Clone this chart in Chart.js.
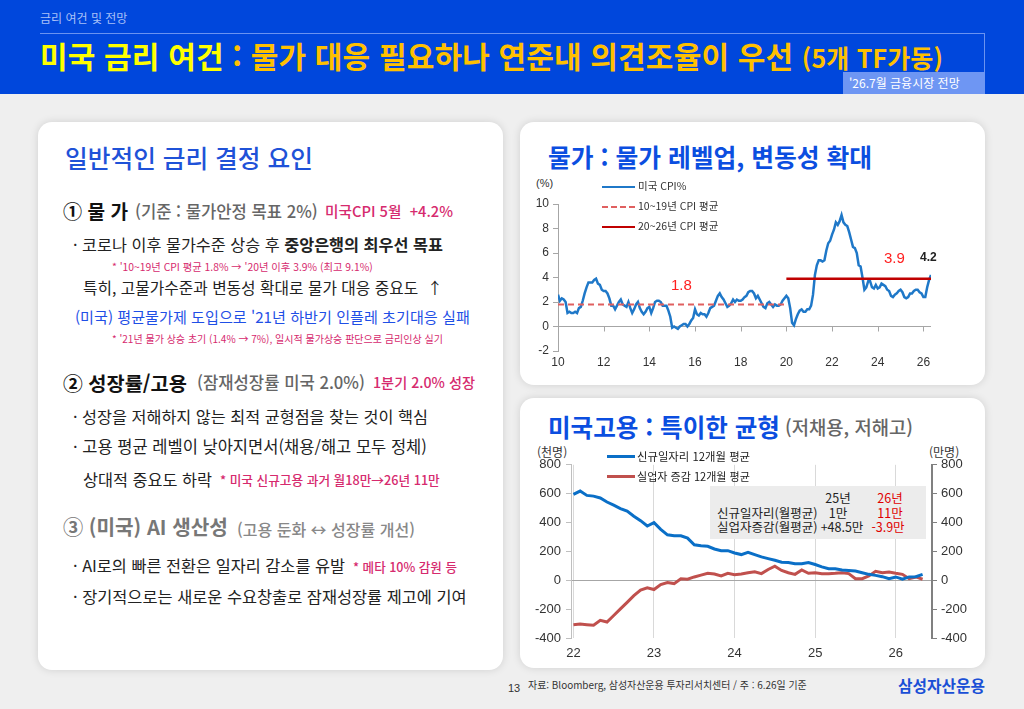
<!DOCTYPE html>
<html lang="ko">
<head>
<meta charset="utf-8">
<title>미국 금리 여건</title>
<script src="https://cdn.jsdelivr.net/npm/chart.js@4.4.1/dist/chart.umd.min.js"></script>
<style>
  html, body { margin: 0; padding: 0; }
  body {
    width: 1024px; height: 709px; position: relative; overflow: hidden;
    background: #efefef; color: #222;
    font-family: "Noto Sans CJK KR", "Noto Sans", sans-serif;
  }
  .abs { position: absolute; white-space: nowrap; line-height: 1; }
  #header { position: absolute; left: 0; top: 0; width: 1024px; height: 94px; background: #0047dc; }
  .card { position: absolute; background: #fff; border-radius: 14px; box-shadow: 0 0 8px rgba(0,0,0,0.13); }
  .pink { color: #d62a6e; }
  .leg-line { position: absolute; height: 0; }
  #info {
    position: absolute; left: 710px; top: 486px; width: 216px; height: 53px;
    background: #ececec; font-size: 12.5px; color: #222;
  }
  #info .c { transform: translateX(-50%); }
</style>
</head>
<body>

<div id="header"></div>
<div class="abs" style="left:40px; top:12px; font-size:12px; color:#a9c0f7;">금리 여건 및 전망</div>
<div style="position:absolute; left:40px; top:33px; width:945px; height:0; border-top:1px solid #6a93f0;"></div>
<div style="position:absolute; left:984px; top:33px; width:0; height:40px; border-left:1px solid #6a93f0;"></div>
<div class="abs" data-w="903" data-fit="ls" style="left:40px; top:40px; font-size:30px; font-weight:700; color:#ffc000;"><span style="color:#ffff00;">미국 금리 여건</span> : 물가 대응 필요하나 연준내 의견조율이 우선 <span style="font-size:25px;">(5개 TF가동)</span></div>
<div style="position:absolute; left:843px; top:72px; width:142px; height:22px; background:#6e96f3;"></div>
<div class="abs" style="left:849px; top:77px; font-size:12px; color:#fff;">'26.7월 금융시장 전망</div>

<!-- 왼쪽 카드 -->
<div class="card" style="left:38px; top:122px; width:465px; height:548px;"></div>
<div class="abs" data-w="248" style="left:65px; top:146px; font-size:22px; font-weight:500; color:#1f52d8;">일반적인 금리 결정 요인</div>

<div class="abs" data-w="65" style="left:63px; top:202px; font-size:19px; font-weight:700; color:#111;">① 물 가</div>
<div class="abs" data-w="183" style="left:135px; top:204px; font-size:15px; font-weight:500; color:#666;">(기준 : 물가안정 목표 2%)</div>
<div class="abs pink" data-w="128" style="left:325px; top:205px; font-size:13px; font-weight:500;">미국CPI 5월 &nbsp;+4.2%</div>

<div class="abs" data-w="370" style="left:73px; top:237px; font-size:15px;">· 코로나 이후 물가수준 상승 후 <b>중앙은행의 최우선 목표</b></div>
<div class="abs pink" data-w="261" style="left:112px; top:262px; font-size:10px;">* '10~19년 CPI 평균 1.8% → '20년 이후 3.9% (최고 9.1%)</div>
<div class="abs" data-w="360" style="left:83px; top:280px; font-size:15px;">특히, 고물가수준과 변동성 확대로 물가 대응 중요도 &nbsp;↑</div>
<div class="abs" data-w="395" style="left:75px; top:309px; font-size:15px; color:#1f4fe6;">(미국) 평균물가제 도입으로 '21년 하반기 인플레 초기대응 실패</div>
<div class="abs pink" data-w="331" style="left:112px; top:334px; font-size:10px;">* '21년 물가 상승 초기 (1.4% → 7%), 일시적 물가상승 판단으로 금리인상 실기</div>

<div class="abs" data-w="124" style="left:63px; top:373px; font-size:19px; font-weight:700; color:#111;">② 성장률/고용</div>
<div class="abs" data-w="168" style="left:197px; top:375px; font-size:15px; font-weight:500; color:#666;">(잠재성장률 미국 2.0%)</div>
<div class="abs pink" data-w="102" style="left:373px; top:376px; font-size:13px; font-weight:500;">1분기 2.0% 성장</div>

<div class="abs" data-w="355" style="left:73px; top:409px; font-size:15px;">· 성장을 저해하지 않는 최적 균형점을 찾는 것이 핵심</div>
<div class="abs" data-w="354" style="left:73px; top:439px; font-size:15px;">· 고용 평균 레벨이 낮아지면서(채용/해고 모두 정체)</div>
<div class="abs" data-w="129" style="left:83px; top:472px; font-size:15px;">상대적 중요도 하락</div>
<div class="abs pink" data-w="220" style="left:220px; top:475px; font-size:11.5px; font-weight:500;">* 미국 신규고용 과거 월18만→26년 11만</div>

<div class="abs" data-w="165" style="left:63px; top:518px; font-size:19px; font-weight:700; color:#777;">③ (미국) AI 생산성</div>
<div class="abs" data-w="178" style="left:237px; top:521px; font-size:15px; font-weight:500; color:#888;">(고용 둔화 ↔ 성장률 개선)</div>

<div class="abs" data-w="272" style="left:73px; top:558px; font-size:15px;">· AI로의 빠른 전환은 일자리 감소를 유발</div>
<div class="abs pink" data-w="104" style="left:353px; top:561px; font-size:11.5px; font-weight:500;">* 메타 10% 감원 등</div>
<div class="abs" data-w="394" style="left:73px; top:589px; font-size:15px;">· 장기적으로는 새로운 수요창출로 잠재성장률 제고에 기여</div>

<!-- 오른쪽 위: 물가 -->
<div class="card" style="left:520px; top:122px; width:465px; height:263px;"></div>
<div class="abs" data-w="324" style="left:548px; top:145px; font-size:22px; font-weight:700; color:#0b4ee0;">물가 : 물가 레벨업, 변동성 확대</div>
<div class="abs" style="left:536px; top:178px; font-size:11px; color:#333; font-family:'Liberation Sans','Noto Sans CJK KR',sans-serif;">(%)</div>
<div style="position:absolute; left:520px; top:178px; width:425px; height:196px;"><canvas id="cpiChart"></canvas></div>
<div class="leg-line" style="left:602px; top:186px; width:33px; border-top:2.5px solid #1f78c8;"></div>
<div class="abs" style="left:638px; top:181px; font-size:10.5px; color:#333;">미국 CPI%</div>
<div class="leg-line" style="left:602px; top:206px; width:33px; border-top:2px dashed #e06060;"></div>
<div class="abs" style="left:638px; top:201px; font-size:10.5px; color:#333;">10~19년 CPI 평균</div>
<div class="leg-line" style="left:602px; top:226px; width:33px; border-top:2.5px solid #c00000;"></div>
<div class="abs" style="left:638px; top:221px; font-size:10.5px; color:#333;">20~26년 CPI 평균</div>
<div class="abs" style="left:671px; top:277px; font-size:15px; color:#ff2020; font-family:'Liberation Sans',sans-serif;">1.8</div>
<div class="abs" style="left:884px; top:250px; font-size:15px; color:#ff2020; font-family:'Liberation Sans',sans-serif;">3.9</div>
<div class="abs" style="left:920px; top:251px; font-size:12px; font-weight:700; color:#222; font-family:'Liberation Sans',sans-serif;">4.2</div>

<!-- 오른쪽 아래: 고용 -->
<div class="card" style="left:520px; top:398px; width:465px; height:270px;"></div>
<div class="abs" data-w="232" style="left:548px; top:416px; font-size:22px; font-weight:700; color:#0b4ee0;">미국고용 : 특이한 균형</div>
<div class="abs" data-w="128" style="left:785px; top:417px; font-size:20px; font-weight:500; color:#666;">(저채용, 저해고)</div>
<div class="abs" style="left:537px; top:446px; font-size:12px; color:#333;">(천명)</div>
<div class="abs" style="left:929px; top:446px; font-size:12px; color:#333;">(만명)</div>
<div style="position:absolute; left:520px; top:452px; width:462px; height:214px;"><canvas id="jobChart"></canvas></div>
<div class="leg-line" style="left:607px; top:455px; width:28px; border-top:3px solid #0a6fc7;"></div>
<div class="abs" data-w="113" style="left:637px; top:450px; font-size:12.5px; color:#222;">신규일자리 12개월 평균</div>
<div class="leg-line" style="left:607px; top:475px; width:28px; border-top:3px solid #c0504d;"></div>
<div class="abs" data-w="113" style="left:637px; top:470px; font-size:12.5px; color:#222;">실업자 증감 12개월 평균</div>
<div id="info">
  <div class="abs c" style="left:128px; top:6px;">25년</div>
  <div class="abs c" style="left:180px; top:6px; color:#e00000;">26년</div>
  <div class="abs" style="left:7px; top:21px;">신규일자리(월평균)</div>
  <div class="abs c" style="left:128px; top:21px;">1만</div>
  <div class="abs c" style="left:180px; top:21px; color:#e00000;">11만</div>
  <div class="abs" style="left:7px; top:35px;">실업자증감(월평균)</div>
  <div class="abs c" style="left:132px; top:35px;">+48.5만</div>
  <div class="abs c" style="left:178px; top:35px; color:#e00000;">-3.9만</div>
</div>

<div class="abs" style="left:508px; top:683px; font-size:11px; color:#333; font-family:'Liberation Sans',sans-serif;">13</div>
<div class="abs" data-w="279" style="left:528px; top:680px; font-size:10px; color:#333;">자료: Bloomberg, 삼성자산운용 투자리서치센터 / 주 : 6.26일 기준</div>
<div class="abs" data-w="87" style="left:898px; top:678px; font-size:15px; font-weight:700; color:#1a4fd6;">삼성자산운용</div>

<script>
// 미국 CPI 전년비(%), 2010년 1월부터 월별
const cpiStartYear = 10;
const cpiValues = [
    2.6, 2.1, 2.3, 2.2, 2.0, 1.1, 1.2, 1.1, 1.1, 1.2, 1.1, 1.5,
    1.6, 2.1, 2.7, 3.2, 3.6, 3.6, 3.6, 3.8, 3.9, 3.5, 3.4, 3.0,
    2.9, 2.9, 2.7, 2.3, 1.7, 1.7, 1.4, 1.7, 2.0, 2.2, 1.8, 1.7,
    1.6, 2.0, 1.5, 1.1, 1.4, 1.8, 2.0, 1.5, 1.2, 1.0, 1.2, 1.5,
    1.6, 1.1, 1.5, 2.0, 2.1, 2.1, 2.0, 1.7, 1.7, 1.7, 1.3, 0.8,
    -0.1, 0.0, -0.1, -0.2, 0.0, 0.1, 0.2, 0.2, 0.0, 0.2, 0.5, 0.7,
    1.4, 1.0, 0.9, 1.1, 1.0, 1.0, 0.8, 1.1, 1.5, 1.6, 1.7, 2.1,
    2.5, 2.7, 2.4, 2.2, 1.9, 1.6, 1.7, 1.9, 2.2, 2.0, 2.2, 2.1,
    2.1, 2.2, 2.4, 2.5, 2.8, 2.9, 2.9, 2.7, 2.3, 2.5, 2.2, 1.9,
    1.6, 1.5, 1.9, 2.0, 1.8, 1.6, 1.8, 1.7, 1.7, 1.8, 2.1, 2.3,
    2.5, 2.3, 1.5, 0.3, 0.1, 0.6, 1.0, 1.3, 1.4, 1.2, 1.2, 1.4,
    1.4, 1.7, 2.6, 4.2, 5.0, 5.4, 5.4, 5.3, 5.4, 6.2, 6.8, 7.0,
    7.5, 7.9, 8.5, 8.3, 8.6, 9.1, 8.5, 8.3, 8.2, 7.7, 7.1, 6.5,
    6.4, 6.0, 5.0, 4.9, 4.0, 3.0, 3.2, 3.7, 3.7, 3.2, 3.1, 3.4,
    3.1, 3.2, 3.5, 3.4, 3.3, 3.0, 2.9, 2.5, 2.4, 2.6, 2.7, 2.9,
    3.0, 2.8, 2.4, 2.3, 2.4, 2.7, 2.7, 2.9, 3.0, 3.0, 2.8, 2.7,
    2.4, 2.4, 3.2, 3.8, 4.2
];
// 기간 평균 (시작연도, 끝연도, 값)
const cpiAvgOld = { from: 10, to: 20, value: 1.8 };
const cpiAvgNew = { from: 20, to: null, value: 3.9 };   // to: 마지막 데이터
const cpiYearTicks = [10, 12, 14, 16, 18, 20, 22, 24, 26];
const cpiValueTicks = [-2, 0, 2, 4, 6, 8, 10];

// 미국 고용 12개월 평균 (천명), 2022년 1월부터 월별
const jobStartYear = 22;
const newJobs = [
    595, 618, 588, 583, 570, 542, 520, 497, 479, 444, 413, 376,
    399, 353, 315, 308, 308, 292, 246, 239, 235, 217, 205, 205,
    189, 178, 194, 178, 162, 150, 139, 125, 123, 114, 114, 123,
    109, 93, 80, 80, 71, 68, 64, 52, 41, 34, 25, 11,
    23, 7, 23, 25, 41
];
const unemployedChange = [
    -308, -303, -308, -312, -278, -289, -244, -198, -153, -107, -68, -52,
    -64, -30, -16, -23, 11, 7, 23, 36, 48, 43, 30, 48,
    39, 43, 52, 59, 46, 75, 98, 68, 52, 41, 71, 48,
    52, 46, 46, 48, 52, 46, 11, 11, 30, 62, 52, 57,
    48, 41, 11, 23, 7
];
const jobYearTicks = [22, 23, 24, 25, 26];
const jobValueTicks = [-400, -200, 0, 200, 400, 600, 800];

// 텍스트 폭 맞추기 (제목은 자간, 나머지는 글자 크기)
document.querySelectorAll('[data-w]').forEach((el) => {
    const target = +el.dataset.w;
    const w = el.getBoundingClientRect().width;
    if (el.dataset.fit === "ls") {
        el.style.letterSpacing = ((target - w) / el.textContent.length).toFixed(2) + "px";
    } else {
        const fs = parseFloat(getComputedStyle(el).fontSize);
        const k = target / w;
        el.style.fontSize = (fs * k).toFixed(2) + "px";
        el.style.top = (parseFloat(el.style.top) + (fs * (1 - k)) / 2).toFixed(1) + "px";
    }
});

Chart.defaults.font.family = "'Liberation Sans', 'Noto Sans CJK KR', sans-serif";
Chart.defaults.color = "#333";
Chart.defaults.animation = false;

const toPoints = (values, startYear) => values.map((v, i) => ({ x: startYear + i / 12, y: v }));
const cpiPoints = toPoints(cpiValues, cpiStartYear);
const cpiLastX = cpiPoints[cpiPoints.length - 1].x;
const avgLine = (p) => [{ x: p.from, y: p.value }, { x: p.to ?? cpiLastX, y: p.value }];

// 0선 위의 x축 눈금
const zeroLineTicks = {
    id: "zeroLineTicks",
    beforeDatasetsDraw(chart) {
        const { ctx, scales: { x, y } } = chart;
        const y0 = y.getPixelForValue(0);
        ctx.save();
        ctx.strokeStyle = "#a6a6a6";
        ctx.lineWidth = 1;
        x.ticks.forEach((t) => {
            const px = Math.round(x.getPixelForValue(t.value)) + 0.5;
            ctx.beginPath();
            ctx.moveTo(px, y0);
            ctx.lineTo(px, y0 + 5);
            ctx.stroke();
        });
        ctx.restore();
    },
};

new Chart(document.getElementById("cpiChart"), {
    type: "line",
    data: {
        datasets: [
            { label: "10~19년 CPI 평균", data: avgLine(cpiAvgOld), borderColor: "#e06060", borderWidth: 2, borderDash: [6, 4], pointRadius: 0, order: 0 },
            { label: "20~26년 CPI 평균", data: avgLine(cpiAvgNew), borderColor: "#c00000", borderWidth: 2.5, pointRadius: 0, order: 0 },
            { label: "미국 CPI%", data: cpiPoints, borderColor: "#1f78c8", borderWidth: 2.5, pointRadius: 0, tension: 0, order: 1 },
        ],
    },
    options: {
        responsive: true,
        maintainAspectRatio: false,
        layout: { padding: { top: 26, right: 14, left: 0, bottom: 0 } },
        plugins: { legend: { display: false }, tooltip: { enabled: false } },
        scales: {
            x: {
                type: "linear",
                min: cpiStartYear,
                max: cpiLastX,
                afterBuildTicks: (s) => { s.ticks = cpiYearTicks.map((v) => ({ value: v })); },
                afterFit: (s) => { s.height = 23; },
                grid: { display: false },
                border: { display: false },
                ticks: { font: { size: 12 }, padding: -4, maxRotation: 0, callback: (v) => String(v) },
            },
            y: {
                min: -2,
                max: 10,
                afterBuildTicks: (s) => { s.ticks = cpiValueTicks.map((v) => ({ value: v })); },
                afterFit: (s) => { s.width = 38; },
                grid: { color: (c) => (c.tick && c.tick.value === 0 ? "#a6a6a6" : "rgba(0,0,0,0)"), tickColor: "#a6a6a6", tickLength: 5 },
                border: { color: "#a6a6a6" },
                ticks: { font: { size: 12 }, padding: 4 },
            },
        },
    },
    plugins: [zeroLineTicks],
});

new Chart(document.getElementById("jobChart"), {
    type: "line",
    data: {
        datasets: [
            { label: "신규일자리 12개월 평균", data: toPoints(newJobs, jobStartYear), borderColor: "#0a6fc7", borderWidth: 3, pointRadius: 0, yAxisID: "y" },
            { label: "실업자 증감 12개월 평균", data: toPoints(unemployedChange, jobStartYear), borderColor: "#c0504d", borderWidth: 3, pointRadius: 0, yAxisID: "y" },
        ],
    },
    options: {
        responsive: true,
        maintainAspectRatio: false,
        layout: { padding: { top: 11, right: 0, left: 0, bottom: 0 } },
        plugins: { legend: { display: false }, tooltip: { enabled: false } },
        scales: {
            x: {
                type: "linear",
                min: 21.97,
                max: 26.45,
                afterBuildTicks: (s) => { s.ticks = jobYearTicks.map((v) => ({ value: v })); },
                afterFit: (s) => { s.height = 28; },
                grid: { color: "#d9d9d9", drawTicks: false },
                border: { display: false },
                ticks: { font: { size: 13 }, padding: 8, maxRotation: 0, callback: (v) => String(v) },
            },
            y: {
                position: "left",
                min: -400,
                max: 800,
                afterBuildTicks: (s) => { s.ticks = jobValueTicks.map((v) => ({ value: v })); },
                afterFit: (s) => { s.width = 51; },
                grid: { color: (c) => (c.tick && c.tick.value === 0 ? "#a6a6a6" : "rgba(0,0,0,0)"), tickColor: "#bfbfbf", tickLength: 5 },
                border: { color: "#bfbfbf" },
                ticks: { font: { size: 13 }, padding: 5 },
            },
            y2: {
                position: "right",
                min: -400,
                max: 800,
                afterBuildTicks: (s) => { s.ticks = jobValueTicks.map((v) => ({ value: v })); },
                afterFit: (s) => { s.width = 50; },
                grid: { drawOnChartArea: false, tickColor: "#808080", tickLength: 5 },
                border: { color: "#808080", width: 2 },
                ticks: { font: { size: 13 }, padding: 4 },
            },
        },
    },
});
</script>
</body>
</html>
